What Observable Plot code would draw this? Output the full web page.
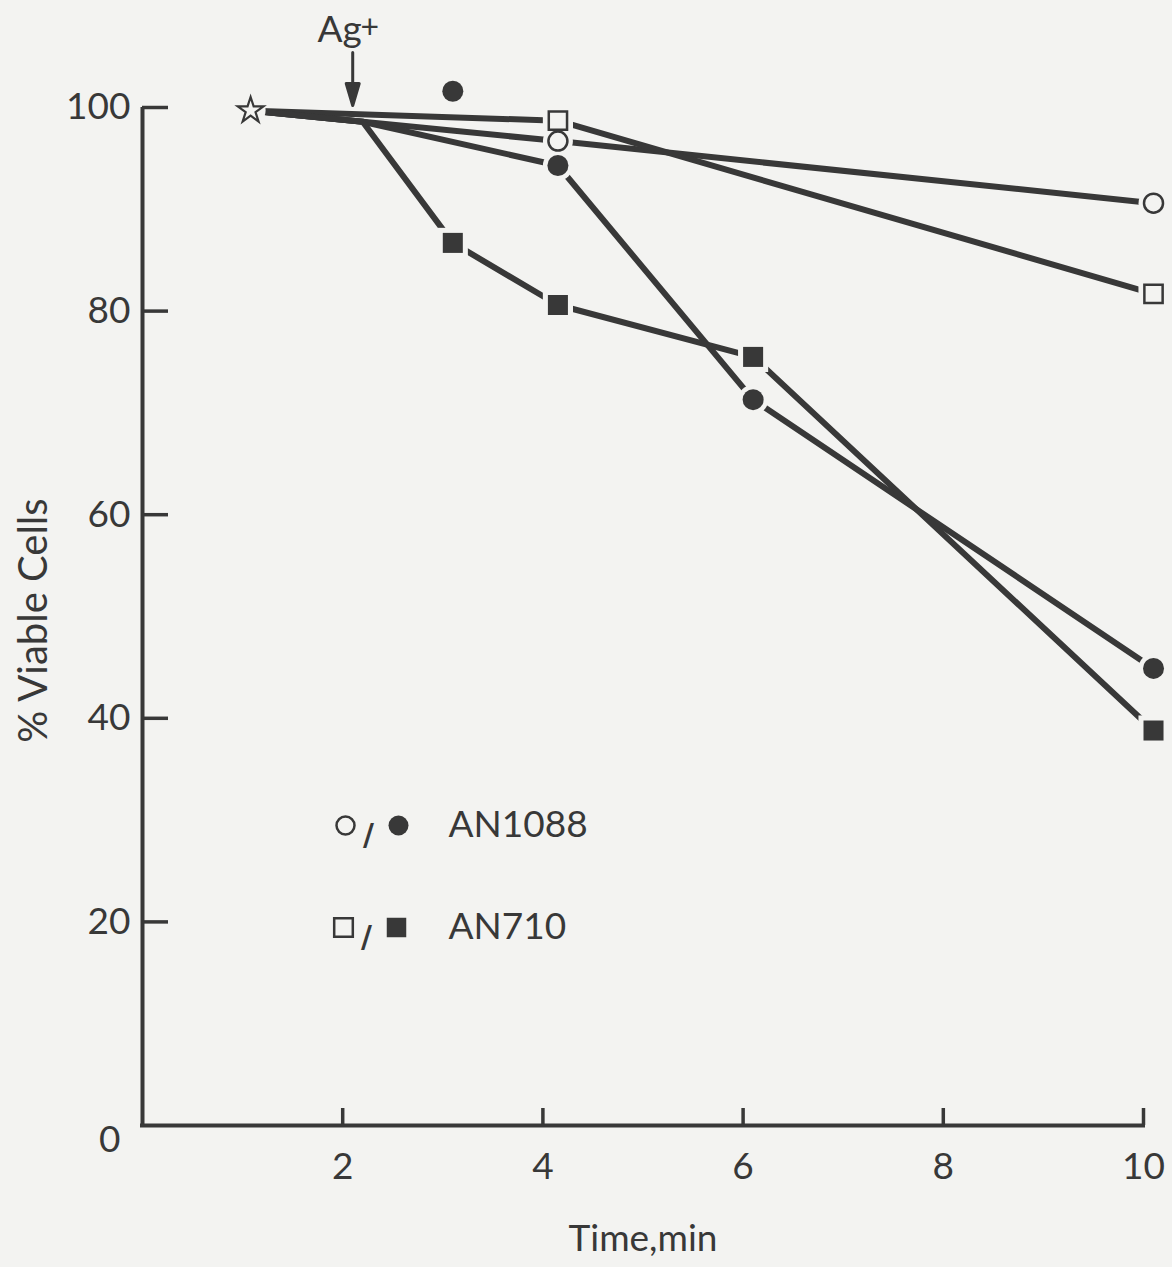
<!DOCTYPE html>
<html>
<head>
<meta charset="utf-8">
<script src="https://cdn.jsdelivr.net/npm/d3@7"></script>
<script src="https://cdn.jsdelivr.net/npm/@observablehq/plot@0.6"></script>
<style>
  html, body { margin: 0; padding: 0; background: #f3f3f1; }
  #chart svg { display: block; }
</style>
</head>
<body>
<div id="chart"></div>
<script>
// ---------- data ----------
// Common starting point (star) before Ag+ addition
const startTime = [1.08];
const startPct = [99.7];

// Time at which Ag+ was added (arrow) and the bend of the Ag+-treated curves
const agAddedTime = 2.1;
const agBendTime = [2.2];
const agBendPct = [98.6];

// AN1088, control (open circles)
const an1088CtrlTime = [4.15, 10.1];
const an1088CtrlPct = [96.7, 90.6];

// AN710, control (open squares)
const an710CtrlTime = [4.15, 10.1];
const an710CtrlPct = [98.7, 81.7];

// AN1088, + Ag+ (filled circles)
const an1088AgTime = [4.15, 6.1, 10.1];
const an1088AgPct = [94.3, 71.3, 44.9];
// isolated filled circle above the 100 line
const an1088AgExtraTime = [3.1];
const an1088AgExtraPct = [101.6];

// AN710, + Ag+ (filled squares)
const an710AgTime = [3.1, 4.15, 6.1, 10.1];
const an710AgPct = [86.7, 80.6, 75.5, 38.8];

// axis ticks
const xTicks = [2, 4, 6, 8, 10];
const yTicks = [20, 40, 60, 80, 100];

// legend entries
const legendLabels = ["AN1088", "AN710"];
const legendSymbols = ["circle", "square"];

// ---------- build tables ----------
const pts = (t, p) => t.map((time, i) => ({time, pct: p[i]}));
const start = pts(startTime, startPct);
const bend = pts(agBendTime, agBendPct);
const c1088 = pts(an1088CtrlTime, an1088CtrlPct);
const c710 = pts(an710CtrlTime, an710CtrlPct);
const a1088 = pts(an1088AgTime, an1088AgPct);
const a1088x = pts(an1088AgExtraTime, an1088AgExtraPct);
const a710 = pts(an710AgTime, an710AgPct);

const lines = [
  [...start, ...c1088],
  [...start, ...c710],
  [...start, ...bend, ...a1088],
  [...start, ...bend, ...a710]
];

// ---------- styles ----------
const ink = "#383838";
const bg = "#f3f3f1";
const font = "Lato, 'Liberation Sans', sans-serif";
const fs = 37;
const rCircle = 10, rSquare = 11.3, rOpenSquare = 10.3, rStar = 8.1;

const arrowShape = {
  draw(context, l) {
    context.moveTo(0, 0);
    context.lineTo(0, -l + 18);
    context.moveTo(-6.5, -l + 22);
    context.lineTo(0, -l);
    context.lineTo(6.5, -l + 22);
    context.closePath();
  }
};

const xy = {x: "time", y: "pct"};

const marks = [
  // axis lines
  Plot.ruleX([0], {stroke: ink, strokeWidth: 4}),
  Plot.ruleY([0], {stroke: ink, strokeWidth: 4, strokeLinecap: "square"}),
  // tick labels
  Plot.axisY({ticks: yTicks, tickSize: 0, tickPadding: 12, label: null, fill: ink, fontSize: fs, fontFamily: font}),
  Plot.axisX({ticks: xTicks, tickSize: 0, tickPadding: 27, label: null, fill: ink, fontSize: fs, fontFamily: font}),
  // inward ticks
  Plot.axisY({ticks: yTicks, tickSize: 26, dx: 26, tickFormat: () => "", label: null, stroke: ink, strokeWidth: 3.5}),
  Plot.axisX({ticks: xTicks, tickSize: 17, dy: -17, tickFormat: () => "", label: null, stroke: ink, strokeWidth: 3.5}),
  // "0" label at the origin
  Plot.text([0], {x: d => d, y: d => d, text: d => String(d), textAnchor: "end", lineAnchor: "middle", dx: -22, dy: 15, fill: ink, fontSize: fs, fontFamily: font}),
  // axis titles
  Plot.text(["% Viable Cells"], {frameAnchor: "left", rotate: -90, textAnchor: "middle", lineAnchor: "middle", dx: -108, dy: 4, fill: ink, fontSize: 40, fontFamily: font}),
  Plot.text(["Time,min"], {frameAnchor: "bottom", textAnchor: "middle", lineAnchor: "middle", dy: 114, fill: ink, fontSize: fs, fontFamily: font}),

  // data lines
  ...lines.map(L => Plot.line(L, {...xy, stroke: ink, strokeWidth: 6})),

  // halos (gaps around markers)
  Plot.dot([...start, ...c1088, ...a1088, ...a1088x], {...xy, r: 15, fill: bg, symbol: "circle"}),
  Plot.dot([...c710, ...a710], {...xy, r: 17, fill: bg, symbol: "square"}),

  // markers
  Plot.dot(start, {...xy, r: rStar, symbol: "star", fill: bg, stroke: ink, strokeWidth: 2.2}),
  Plot.dot(c1088, {...xy, r: rCircle - 0.5, symbol: "circle", fill: bg, stroke: ink, strokeWidth: 2.5}),
  Plot.dot(c710, {...xy, r: rOpenSquare, symbol: "square", fill: bg, stroke: ink, strokeWidth: 2.5}),
  Plot.dot([...a1088, ...a1088x], {...xy, r: rCircle + 0.5, symbol: "circle", fill: ink}),
  Plot.dot(a710, {...xy, r: rSquare, symbol: "square", fill: ink}),

  // Ag+ arrow annotation
  Plot.vector([{time: agAddedTime, pct: 100}], {...xy, length: 53, rotate: 180, anchor: "end", shape: arrowShape, stroke: ink, fill: ink, strokeWidth: 3, dy: -2}),
  Plot.text([{time: agAddedTime, pct: 100}], {...xy, text: () => "Ag", lineAnchor: "middle", dx: -13, dy: -77, fill: ink, fontSize: fs, fontFamily: font}),
  Plot.text([{time: agAddedTime, pct: 100}], {...xy, text: () => "+", lineAnchor: "middle", dx: 17, dy: -80, fill: ink, fontSize: 32, fontFamily: font}),

  // legend (inside the frame)
  ...legendLabels.flatMap((label, i) => {
    const dy = i === 0 ? 718 : 820;
    const sym = legendSymbols[i];
    const rOpen = sym === "circle" ? 9 : 10.5;
    const rFill = sym === "circle" ? 10 : 11;
    return [
      Plot.dot([label], {frameAnchor: "top-left", dx: 203 - i * 2, dy, r: rOpen, symbol: sym, fill: bg, stroke: ink, strokeWidth: 2.5}),
      Plot.text([label], {frameAnchor: "top-left", textAnchor: "middle", lineAnchor: "middle", dx: 226 - i * 2, dy: dy + 10, text: () => "/", fill: ink, fontSize: 30, fontWeight: "bold", fontFamily: "'DejaVu Sans', sans-serif"}),
      Plot.dot([label], {frameAnchor: "top-left", dx: 256 - i * 2, dy, r: rFill, symbol: sym, fill: ink}),
      Plot.text([label], {frameAnchor: "top-left", lineAnchor: "middle", dx: 306, dy: dy, text: d => d, textAnchor: "start", fill: ink, fontSize: fs, fontFamily: font})
    ];
  })
];

const chart = Plot.plot({
  width: 1172,
  height: 1267,
  marginLeft: 142,
  marginRight: 29,
  marginTop: 107,
  marginBottom: 142,
  x: {domain: [0, 10]},
  y: {domain: [0, 100]},
  style: {background: bg, color: ink, fontFamily: font, fontSize: fs + "px"},
  marks
});
document.getElementById("chart").appendChild(chart);
</script>
</body>
</html>
